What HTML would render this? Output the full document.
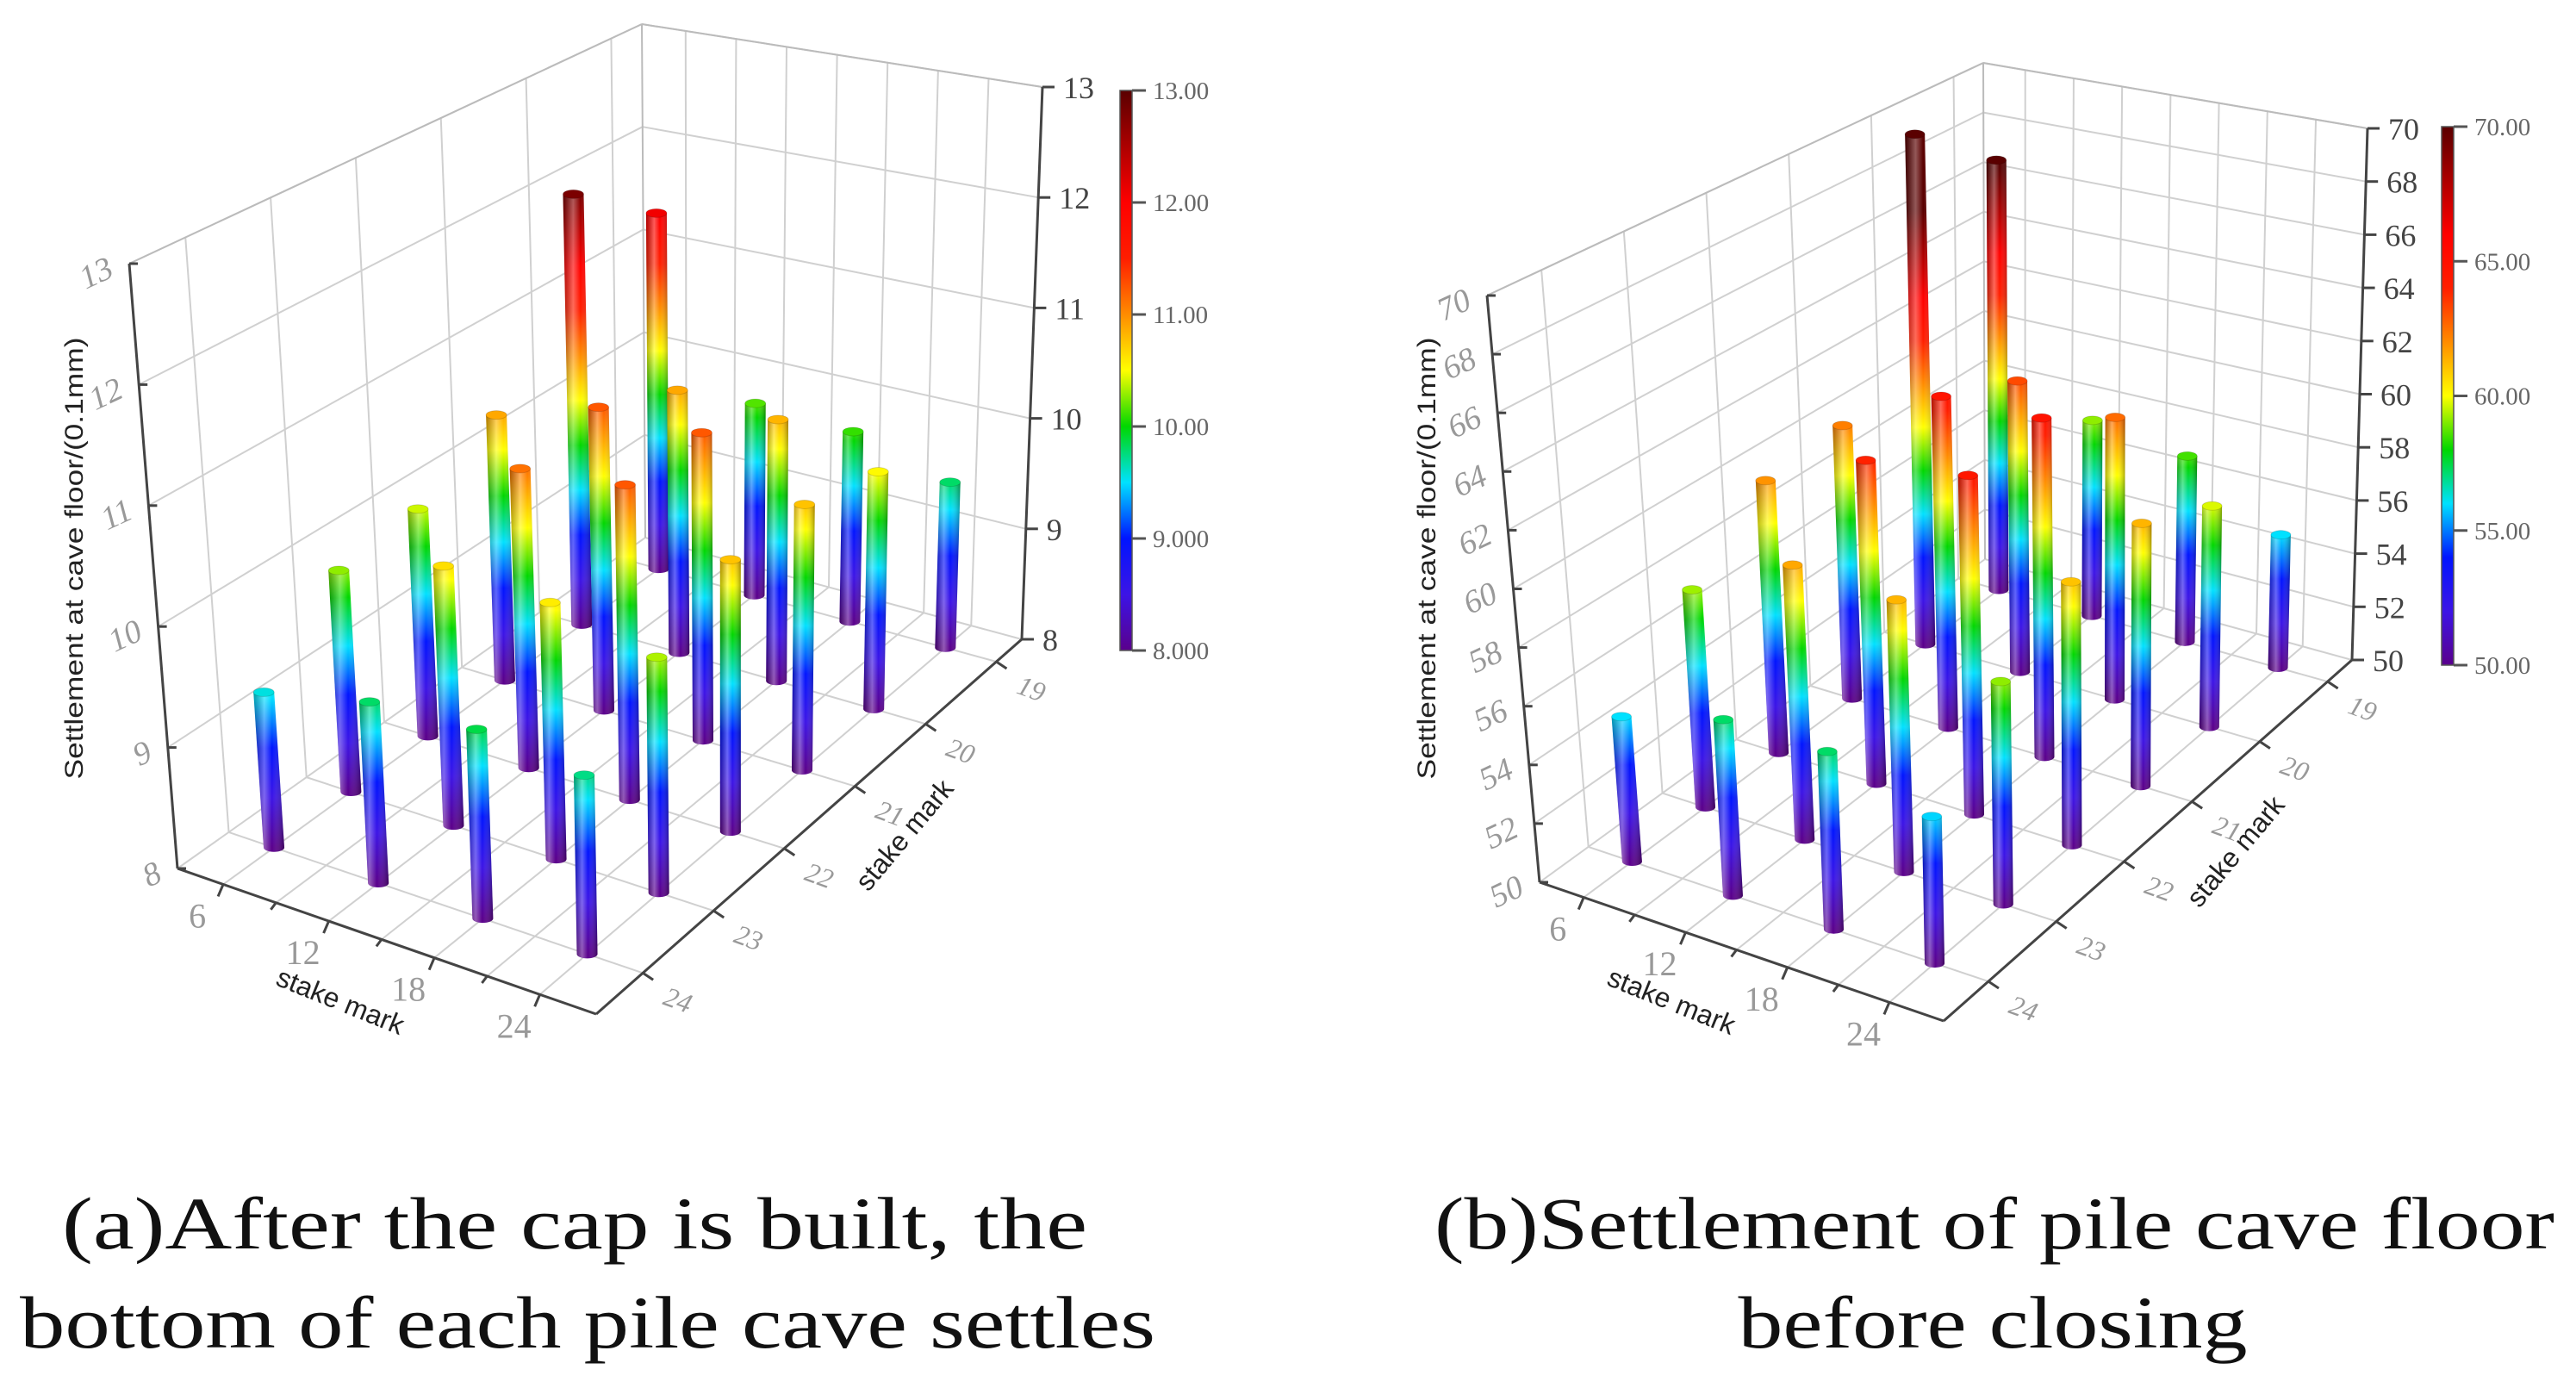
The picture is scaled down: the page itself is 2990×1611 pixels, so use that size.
<!DOCTYPE html>
<html><head><meta charset="utf-8"><style>
html,body{margin:0;padding:0;background:#fff;}
svg{display:block;}
text{font-family:"Liberation Serif",serif;}
.sans{font-family:"Liberation Sans",sans-serif;}
</style></head><body>
<svg id="root" width="2990" height="1611" viewBox="0 0 2990 1611" xmlns="http://www.w3.org/2000/svg">
<defs id="defs"></defs>
<g id="chartA"></g>
<g id="chartB"></g>
<text x="667" y="1449" font-size="86" text-anchor="middle" textLength="1190" lengthAdjust="spacingAndGlyphs" fill="#111">(a)After the cap is built, the</text>
<text x="682" y="1564" font-size="86" text-anchor="middle" textLength="1318" lengthAdjust="spacingAndGlyphs" fill="#111">bottom of each pile cave settles</text>
<text x="2315" y="1449" font-size="86" text-anchor="middle" textLength="1300" lengthAdjust="spacingAndGlyphs" fill="#111">(b)Settlement of pile cave floor</text>
<text x="2313" y="1564" font-size="86" text-anchor="middle" textLength="591" lengthAdjust="spacingAndGlyphs" fill="#111">before closing</text>
</svg>
<script>
// ---- data ----
const uCats = [6, 12, 18, 24];
const vCats = [19, 20, 21, 22, 23, 24];
const uTickLabels = ["6", "12", "18", "24"];
const vTickLabels = ["19", "20", "21", "22", "23", "24"];
// rows: v = 19..24 ; columns: u = 6,12,18,24
const valuesA_v19 = [11.4, 9.8, 9.75, 9.5];
const valuesA_v20 = [12.0, 10.4, 10.35, 10.1];
const valuesA_v21 = [10.4, 10.7, 10.7, 10.3];
const valuesA_v22 = [10.0, 10.6, 10.7, 10.3];
const valuesA_v23 = [9.9, 10.2, 10.15, 9.95];
const valuesA_v24 = [9.3, 9.5, 9.55, 9.45];
const valuesB_v19 = [67, 57.6, 57.1, 55];
const valuesB_v20 = [69.6, 61, 60.5, 58.1];
const valuesB_v21 = [60.2, 62.2, 62.3, 59.4];
const valuesB_v22 = [59.9, 61.6, 62, 59.2];
const valuesB_v23 = [57.7, 59.6, 59.4, 57.6];
const valuesB_v24 = [55, 56, 56, 54.9];
const zTicksA = [8, 9, 10, 11, 12, 13];
const zTicksB = [50, 52, 54, 56, 58, 60, 62, 64, 66, 68, 70];
const cbarLabelsA = ["13.00", "12.00", "11.00", "10.00", "9.000", "8.000"];
const cbarLabelsB = ["70.00", "65.00", "60.00", "55.00", "50.00"];

const NS = "http://www.w3.org/2000/svg";
const defs = document.getElementById('defs');
function el(tag, attrs, parent) {
  const e = document.createElementNS(NS, tag);
  for (const k in attrs) e.setAttribute(k, attrs[k]);
  if (parent) parent.appendChild(e);
  return e;
}
const stops = [[0, [90, 0, 140]], [0.1, [60, 20, 230]], [0.2, [0, 20, 255]], [0.3, [0, 225, 255]], [0.4, [0, 215, 0]], [0.5, [255, 255, 0]], [0.6, [255, 140, 0]], [0.7, [255, 30, 0]], [0.8, [255, 0, 0]], [1, [90, 0, 0]]];
const colorStretch = 1.2;
function cmap(f) {
  f = Math.max(0, Math.min(1, f));
  for (let i = 1; i < stops.length; i++) {
    if (f <= stops[i][0]) {
      const a = stops[i - 1], b = stops[i], t = (f - a[0]) / (b[0] - a[0]);
      const c = a[1].map((v, k) => Math.round(v + (b[1][k] - v) * t));
      return `rgb(${c[0]},${c[1]},${c[2]})`;
    }
  }
  return 'rgb(90,0,0)';
}
function addStops(g) {
  stops.forEach(s => { el('stop', { offset: s[0], 'stop-color': `rgb(${s[1].join(',')})` }, g); });
}
const shade = el('linearGradient', { id: 'shade', x1: 0, y1: 0, x2: 1, y2: 0 }, defs);
el('stop', { offset: 0, 'stop-color': '#000', 'stop-opacity': 0.3 }, shade);
el('stop', { offset: 0.35, 'stop-color': '#fff', 'stop-opacity': 0.35 }, shade);
el('stop', { offset: 0.6, 'stop-color': '#fff', 'stop-opacity': 0 }, shade);
el('stop', { offset: 1, 'stop-color': '#000', 'stop-opacity': 0.35 }, shade);

function drawChart(root, cfg, rows, zTicks, cbarLabels, id) {
  const u0 = 3.4, u1 = 27.2, vmin = 18.64, vmax = 24.66;
  const sOf = u => (u - u0) / (u1 - u0);
  const tOf = v => (vmax - v) / (vmax - vmin);
  const bl = (q, s, t) => q.L * (1 - s) * (1 - t) + q.F * s * (1 - t) + q.R * s * t + q.B * (1 - s) * t;
  function P(s, t, z) {
    const x = bl({ L: cfg.L[0], F: cfg.F[0], R: cfg.R[0], B: cfg.B[0] }, s, t);
    const y = bl({ L: cfg.L[1], F: cfg.F[1], R: cfg.R[1], B: cfg.B[1] }, s, t);
    const sc = bl(cfg.sc, s, t), dx = bl(cfg.dx, s, t);
    const dz = z - cfg.zmin;
    return [x + dx * dz, y - sc * dz];
  }
  const line = (a, b, st, w, name) => {
    const l = el('line', { x1: a[0], y1: a[1], x2: b[0], y2: b[1], stroke: st, 'stroke-width': w }, root);
    
    
    return l;
  };
  const grid = '#d0d0d0';
  const zmin = cfg.zmin, zmax = cfg.zmax;
  zTicks.forEach(z => {
    line(P(0, 0, z), P(0, 1, z), grid, 2, 'left-wall-gridline');
    line(P(0, 1, z), P(1, 1, z), grid, 2, 'back-wall-gridline');
  });
  vCats.forEach(v => { const t = tOf(v); line(P(0, t, zmin), P(0, t, zmax), grid, 2, 'left-wall-vgrid'); line(P(0, t, zmin), P(1, t, zmin), grid, 2, 'floor-gridline-v'); });
  [6, 9, 12, 15, 18, 21, 24].forEach(u => { const s = sOf(u); line(P(s, 1, zmin), P(s, 1, zmax), grid, 2, 'back-wall-vgrid'); line(P(s, 0, zmin), P(s, 1, zmin), grid, 2, 'floor-gridline-u'); });
  line(P(0, 1, zmin), P(0, 1, zmax), '#bbb', 2, 'back-corner-edge');
  line(P(0, 0, zmax), P(0, 1, zmax), '#bbb', 2, 'left-wall-top-edge');
  line(P(0, 1, zmax), P(1, 1, zmax), '#bbb', 2, 'back-wall-top-edge');
  const ax = '#444';
  line(P(0, 0, zmin), P(1, 0, zmin), ax, 3, 'x-axis');
  line(P(1, 0, zmin), P(1, 1, zmin), ax, 3, 'y-axis');
  line(P(0, 0, zmin), P(0, 0, zmax), ax, 3, 'z-axis-left');
  line(P(1, 1, zmin), P(1, 1, zmax), ax, 3, 'z-axis-right');
  [6, 9, 12, 15, 18, 21, 24].forEach(u => { const p = P(sOf(u), 0, zmin); line(p, [p[0] - 6, p[1] + (u % 6 ? 8 : 14)], ax, 3, 'x-tick'); });
  uCats.forEach((u, i) => {
    const p = P(sOf(u), 0, zmin);
    const t = el('text', { x: p[0] - 30, y: p[1] + 50, 'font-size': 40, fill: '#999', 'text-anchor': 'middle' }, root);
    t.textContent = uTickLabels[i];
    
    
  });
  vCats.forEach((v, i) => {
    const p = P(1, tOf(v), zmin);
    line(p, [p[0] + 12, p[1] + 8], ax, 3, 'y-tick');
    const t = el('text', { x: p[0] + 22, y: p[1] + 36, 'font-size': 32, fill: '#999', 'font-style': 'italic', transform: `rotate(20 ${p[0] + 22} ${p[1] + 36})` }, root);
    t.textContent = vTickLabels[i];
    
    
  });
  zTicks.forEach(z => {
    const p = P(0, 0, z);
    line(p, [p[0] + 10, p[1]], ax, 3, 'z-left-tick');
    const t = el('text', { x: p[0] - 16, y: p[1] + 14, 'font-size': 38, fill: '#999', 'font-style': 'italic', 'text-anchor': 'end', transform: `rotate(-25 ${p[0] - 16} ${p[1] + 14})` }, root);
    t.textContent = z;
    
    
    const q = P(1, 1, z);
    line(q, [q[0] + 14, q[1]], ax, 3, 'z-right-tick');
    const t2 = el('text', { x: q[0] + 24, y: q[1] + 13, 'font-size': 36, fill: '#444' }, root);
    t2.textContent = z;
    
    
  });
  const bars = [];
  vCats.forEach((v, ri) => uCats.forEach((u, ci) => bars.push({ u, v, val: rows[ri][ci] })));
  bars.sort((a, b) => P(sOf(a.u), tOf(a.v), zmin)[1] - P(sOf(b.u), tOf(b.v), zmin)[1]);
  bars.forEach((b, k) => {
    const s = sOf(b.u), t = tOf(b.v);
    const pb = P(s, t, zmin), pt = P(s, t, b.val), pm = P(s, t, zmin + (zmax - zmin) / colorStretch);
    const r = cfg.r, ry = 5;
    const gid = id + 'g' + k;
    const g = el('linearGradient', { id: gid, gradientUnits: 'userSpaceOnUse', x1: pb[0], y1: pb[1], x2: pm[0], y2: pm[1] }, defs);
    addStops(g);
    const d = `M${pt[0] - r},${pt[1]} L${pb[0] - r},${pb[1]} A${r},${ry} 0 0 0 ${pb[0] + r},${pb[1]} L${pt[0] + r},${pt[1]} Z`;
    const grp = el('g', {}, root);
    
    
    el('path', { d, fill: `url(#${gid})` }, grp);
    el('path', { d, fill: 'url(#shade)' }, grp);
    el('ellipse', { cx: pt[0], cy: pt[1], rx: r, ry, fill: cmap(colorStretch * (b.val - zmin) / (zmax - zmin)), stroke: 'rgba(0,0,0,0.15)', 'stroke-width': 1 }, grp);
  });
  const cb = cfg.cbar;
  const cg = el('linearGradient', { id: id + 'cb', x1: 0, y1: 1, x2: 0, y2: 0 }, defs);
  addStops(cg);
  const rc = el('rect', { x: cb.x, y: cb.y0, width: 14, height: cb.y1 - cb.y0, fill: `url(#${id}cb)`, stroke: '#555', 'stroke-width': 1.5 }, root);
  
  
  cbarLabels.forEach((lab, i) => {
    const y = cb.y0 + (cb.y1 - cb.y0) * i / (cbarLabels.length - 1);
    line([cb.x + 14, y], [cb.x + 30, y], '#555', 3, 'colorbar-tick');
    const t = el('text', { x: cb.x + 38, y: y + 10, 'font-size': 29, fill: '#666' }, root);
    t.textContent = lab;
    
    
  });
  const zt = el('text', { x: cfg.zt[0], y: cfg.zt[1], 'font-size': 30, fill: '#222', 'text-anchor': 'middle', class: 'sans', textLength: 513, lengthAdjust: 'spacingAndGlyphs', transform: `rotate(-90 ${cfg.zt[0]} ${cfg.zt[1]})` }, root);
  zt.textContent = 'Settlement at cave floor/(0.1mm)';
  
  
  const xt = el('text', { x: cfg.xt[0], y: cfg.xt[1], 'font-size': 32, fill: '#222', 'text-anchor': 'middle', class: 'sans', transform: `rotate(22 ${cfg.xt[0]} ${cfg.xt[1]})` }, root);
  xt.textContent = 'stake mark';
  
  
  const yt = el('text', { x: cfg.yt[0], y: cfg.yt[1], 'font-size': 32, fill: '#222', 'text-anchor': 'middle', class: 'sans', transform: `rotate(-50 ${cfg.yt[0]} ${cfg.yt[1]})` }, root);
  yt.textContent = 'stake mark';
  
  
}
drawChart(document.getElementById('chartA'), {
  L: [206, 1008], F: [692, 1177], R: [1186, 742], B: [749, 624],
  sc: { L: 140.4, F: 146, R: 128.2, B: 119.2 }, dx: { L: -11.2, F: -2, R: 4.8, B: -0.8 },
  zmin: 8, zmax: 13, r: 12,
  cbar: { x: 1300, y0: 105, y1: 755 }, zt: [96, 648], xt: [391, 1172], yt: [1058, 976]
}, [valuesA_v19, valuesA_v20, valuesA_v21, valuesA_v22, valuesA_v23, valuesA_v24], zTicksA, cbarLabelsA, 'a');
drawChart(document.getElementById('chartB'), {
  L: [1787, 1024], F: [2256, 1185], R: [2730, 766], B: [2304, 649],
  sc: { L: 34.05, F: 35.5, R: 30.85, B: 28.8 }, dx: { L: -3.05, F: -0.5, R: 0.9, B: -0.1 },
  zmin: 50, zmax: 70, r: 11.5,
  cbar: { x: 2834, y0: 147, y1: 772 }, zt: [1666, 648], xt: [1936, 1172], yt: [2603, 995]
}, [valuesB_v19, valuesB_v20, valuesB_v21, valuesB_v22, valuesB_v23, valuesB_v24], zTicksB, cbarLabelsB, 'b');
</script>
</body></html>
